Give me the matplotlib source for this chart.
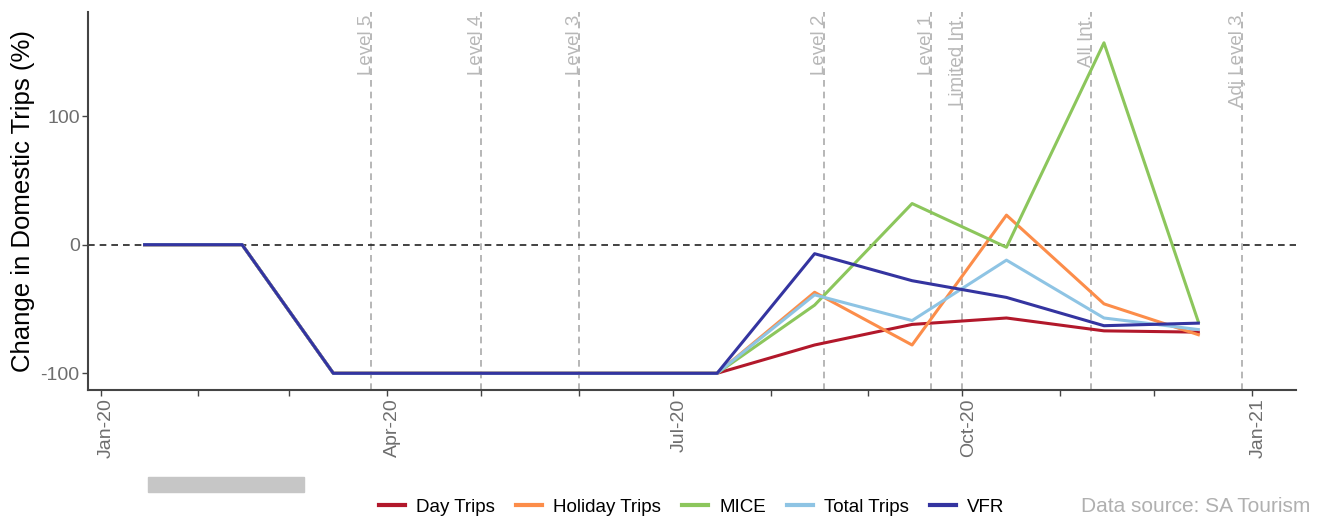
import matplotlib
matplotlib.use("Agg")
import matplotlib.pyplot as plt
import matplotlib.dates as mdates
import matplotlib.patches as mpatches
import matplotlib.transforms as mtransforms
import pandas as pd

plt.rcParams['font.family'] = ['Liberation Sans', 'DejaVu Sans']
plt.rcParams['axes.unicode_minus'] = False

# monthly survey points (mid-month)
months = pd.to_datetime(['2020-01-15', '2020-02-15', '2020-03-15', '2020-04-15',
                         '2020-05-15', '2020-06-15', '2020-07-15', '2020-08-15',
                         '2020-09-15', '2020-10-15', '2020-11-15', '2020-12-15'])

day_trips = [0, 0, -100, -100, -100, -100, -100, -78, -62, -57, -67, -68]
holiday_trips = [0, 0, -100, -100, -100, -100, -100, -37, -78, 23, -46, -70]
mice = [0, 0, -100, -100, -100, -100, -100, -47, 32, -2, 157, -60]
total_trips = [0, 0, -100, -100, -100, -100, -100, -39, -59, -12, -57, -66]
vfr = [0, 0, -100, -100, -100, -100, -100, -7, -28, -41, -63, -61]

series_names = ['Day Trips', 'Holiday Trips', 'MICE', 'Total Trips', 'VFR']
series_values = [day_trips, holiday_trips, mice, total_trips, vfr]
series_colors = ['#b2182b', '#fc8d4a', '#8cc65c', '#8ec4e4', '#3434a0']

# lockdown level changes
event_dates = pd.to_datetime(['2020-03-27', '2020-05-01', '2020-06-01', '2020-08-18',
                              '2020-09-21', '2020-10-01', '2020-11-11', '2020-12-29'])
event_labels = ['Level 5', 'Level 4', 'Level 3', 'Level 2', 'Level 1',
                'Limited Int.', 'All Int.', 'Adj Level 3']

fig = plt.figure(figsize=(13.25, 5.2), dpi=100)
ax = fig.add_axes([0.0664, 0.25, 0.9116, 0.727])

for name, vals, col in zip(series_names, series_values, series_colors):
    ax.plot(months, vals, color=col, lw=2.2, label=name, zorder=3)

ax.axhline(0, color='#222222', lw=1.2, ls=(0, (4, 3)), zorder=2)

for d, lab in zip(event_dates, event_labels):
    ax.axvline(d, color='#aaaaaa', lw=1.2, ls=(0, (4, 3)), zorder=1)
    ax.text(d, 179, lab, rotation=90, rotation_mode='anchor', ha='right',
            va='baseline', color='#b8b8b8', fontsize=13.5)

ax.set_xlim(pd.Timestamp('2019-12-28'), pd.Timestamp('2021-01-15'))
ax.set_ylim(-113, 181)
ax.set_yticks([-100, 0, 100])

ax.xaxis.set_major_locator(mdates.MonthLocator(bymonth=[1, 4, 7, 10]))
ax.xaxis.set_minor_locator(mdates.MonthLocator())
ax.xaxis.set_major_formatter(mdates.DateFormatter('%b-%y'))

ax.tick_params(axis='both', colors='#444444', labelcolor='#6e6e6e', labelsize=14,
               length=4, width=1, pad=2)
ax.tick_params(axis='x', which='minor', colors='#444444', length=4, width=1)

# rotated date labels sit a little right of their ticks
shift = mtransforms.ScaledTranslation(6 / 100, 0, fig.dpi_scale_trans)
for lbl in ax.get_xticklabels():
    lbl.set_rotation(90)
    lbl.set_transform(lbl.get_transform() + shift)

ax.set_ylabel('Change in Domestic Trips (%)', fontsize=18.5, color='black',
              labelpad=4)

for s in ['top', 'right']:
    ax.spines[s].set_visible(False)
for s in ['left', 'bottom']:
    ax.spines[s].set_color('#444444')
    ax.spines[s].set_linewidth(1.5)

fig.legend(loc='center', bbox_to_anchor=(0.522, 0.025), ncol=5, frameon=False,
           fontsize=13.5, handlelength=1.4, columnspacing=1.1, handletextpad=0.6)
for line in fig.legends[0].get_lines():
    line.set_linewidth(3)

fig.text(0.989, 0.025, 'Data source: SA Tourism', ha='right', va='center',
         fontsize=15, color='#b0b0b0')

# grey strip left below the axis
fig.patches.append(mpatches.Rectangle((148 / 1325, 28 / 520), 156 / 1325, 15 / 520,
                                      transform=fig.transFigure, color='#c6c6c6',
                                      zorder=0))

fig.savefig('out.png', dpi=100)
